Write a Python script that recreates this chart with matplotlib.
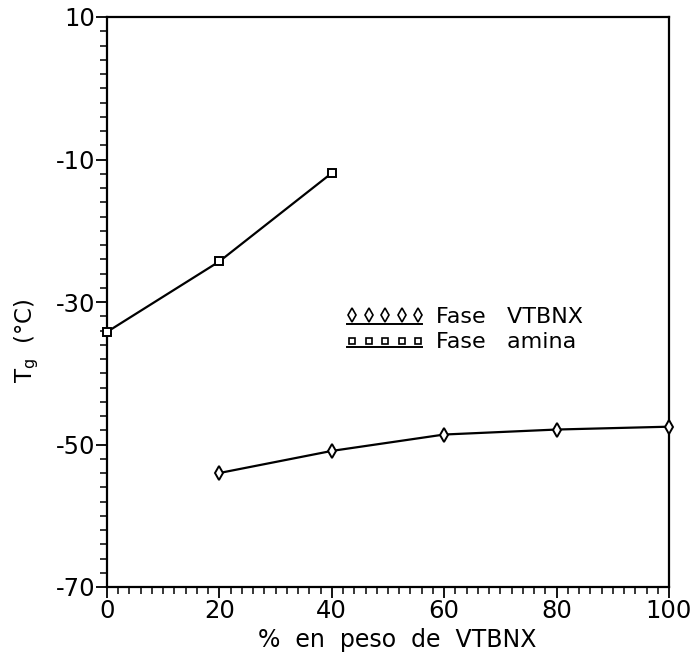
import matplotlib
matplotlib.use("Agg")
import matplotlib.pyplot as plt
from matplotlib.ticker import MultipleLocator, FixedLocator

plt.rcParams['font.family'] = ['DejaVu Sans']
plt.rcParams['axes.unicode_minus'] = False

# Data
amina_x = [0, 20, 40]
amina_y = [-34.2, -24.3, -11.9]
vtbnx_x = [20, 40, 60, 80, 100]
vtbnx_y = [-54.0, -50.9, -48.6, -47.9, -47.5]

x_ticks = [0, 20, 40, 60, 80, 100]
y_ticks = [10, -10, -30, -50, -70]

fig = plt.figure(figsize=(6.94, 6.52), dpi=100)
ax = fig.add_axes([107/694, 1-587/652, (669-107)/694, (587-17)/652])

ax.plot(amina_x, amina_y, color='black', lw=1.6, marker='s', ms=5.5,
        mfc='white', mec='black', mew=1.4, clip_on=False, zorder=3)
ax.plot(vtbnx_x, vtbnx_y, color='black', lw=1.6, marker='d', ms=7.5,
        mfc='white', mec='black', mew=1.4, clip_on=False, zorder=3)

ax.set_xlim(0, 100)
ax.set_ylim(-70, 10)
ax.xaxis.set_major_locator(FixedLocator(x_ticks))
ax.xaxis.set_minor_locator(MultipleLocator(2))
ax.yaxis.set_major_locator(FixedLocator(y_ticks))
ax.yaxis.set_minor_locator(FixedLocator(list(range(-70, 11, 2))))
ax.set_xticklabels([str(v) for v in x_ticks])
ax.set_yticklabels([str(v) for v in y_ticks])

ax.tick_params(which='major', direction='out', length=8, width=1.3,
               labelsize=17.5, pad=0.5)
ax.tick_params(which='minor', direction='out', length=5, width=1.1)
ax.tick_params(axis='y', which='major', pad=0.5)
for s in ax.spines.values():
    s.set_linewidth(1.6)

ax.set_xlabel('%  en  peso  de  VTBNX', fontsize=17)
ax.xaxis.set_label_coords(0.516, -0.072)
ax.set_ylabel('T$_\\mathregular{g}$  (°C)', fontsize=16.5)
ax.yaxis.set_label_coords(-0.118, 0.433)

# Custom legend
tr = ax.transAxes
def lx(px):
    return (px - 107) / 562
def ly(py):
    return (587 - py) / 570

xs = [lx(352 + i * 16.5) for i in range(5)]
ax.plot(xs, [ly(315)] * 5, ls='none', marker='d', ms=7, mfc='white',
        mec='black', mew=1.2, transform=tr, clip_on=False)
ax.plot([lx(347), lx(422)], [ly(324)] * 2, color='black', lw=1.4, transform=tr)
ax.plot(xs, [ly(341)] * 5, ls='none', marker='s', ms=5, mfc='white',
        mec='black', mew=1.2, transform=tr, clip_on=False)
ax.plot([lx(347), lx(422)], [ly(347)] * 2, color='black', lw=1.4, transform=tr)
ax.text(lx(436), ly(317), 'Fase   VTBNX', fontsize=16, va='center', ha='left', transform=tr)
ax.text(lx(436), ly(342), 'Fase   amina', fontsize=16, va='center', ha='left', transform=tr)

fig.savefig('out.png', dpi=100)
